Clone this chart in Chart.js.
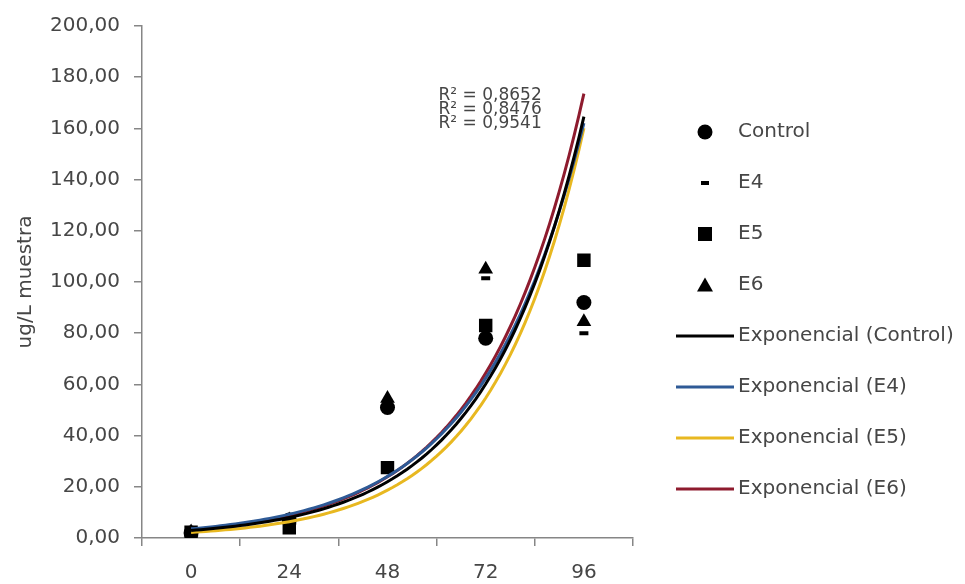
<!DOCTYPE html>
<html>
<head>
<meta charset="utf-8">
<script src="https://cdn.jsdelivr.net/npm/chart.js@4/dist/chart.umd.min.js"></script>
<style>
html,body{margin:0;padding:0;background:#fff;}
#wrap{width:965px;height:584px;}
</style>
</head>
<body>
<div id="wrap"><canvas id="myChart" width="965" height="584"></canvas></div>
<script>
// sampling hours (categories)
var hours = ["0", "24", "48", "72", "96"];
var yTicks = [0, 20, 40, 60, 80, 100, 120, 140, 160, 180, 200];

// ug/L muestra
var control = [2.0, 7.0, 51.0, 78.0, 92.0];
var e4      = [2.5, 7.5, 53.0, 101.5, 80.0];
var e5      = [2.3, 4.0, 27.5, 83.0, 108.5];
var e6      = [2.3, 7.0, 54.5, 105.0, 84.5];

var seriesNames = ["Control", "E4", "E5", "E6"];
var trendColors = ["#000000", "#2e5a96", "#e8b820", "#8e1b2e"];
var r2Labels = ["R\u00b2 = 0,8652", "R\u00b2 = 0,8476", "R\u00b2 = 0,9541"];

var font = "'DejaVu Sans', sans-serif";
var textColor = "#464646";
var axisColor = "#868686";

// excel-style exponential trendline: least squares on ln(y), x = category index 1..n
function expFit(vals){
  var n = vals.length, sx=0, sy=0, sxx=0, sxy=0;
  for (var i=0;i<n;i++){
    var x=i+1, y=Math.log(vals[i]);
    sx+=x; sy+=y; sxx+=x*x; sxy+=x*y;
  }
  var b=(n*sxy-sx*sy)/(n*sxx-sx*sx);
  var a=(sy-b*sx)/n;
  return function(x){ return Math.exp(a+b*x); };
}
function trendPoints(vals){
  var f=expFit(vals), pts=[];
  for (var t=0;t<=(vals.length-1)*20;t++){
    var x=t/20;
    pts.push({x:x, y:f(x+1)});
  }
  return pts;
}

// little canvases for the legend markers
function marker(kind, color){
  var c=document.createElement("canvas");
  var w = kind=="line" ? 58 : 18;
  c.width=w; c.height=18;
  var g=c.getContext("2d");
  g.fillStyle=color; g.strokeStyle=color;
  if (kind=="circle"){ g.beginPath(); g.arc(9,9,7.5,0,Math.PI*2); g.fill(); }
  if (kind=="dash"){ g.fillRect(5,7,8,4); }
  if (kind=="rect"){ g.fillRect(2,2,14,14); }
  if (kind=="triangle"){ g.beginPath(); g.moveTo(9,1.5); g.lineTo(17,15.5); g.lineTo(1,15.5); g.closePath(); g.fill(); }
  if (kind=="line"){ g.lineWidth=3; g.beginPath(); g.moveTo(0,9); g.lineTo(w,9); g.stroke(); }
  return c;
}
var legendMarks = [marker("circle","#000"), marker("dash","#000"), marker("rect","#000"), marker("triangle","#000")];
trendColors.forEach(function(col){ legendMarks.push(marker("line", col)); });

var values = [control, e4, e5, e6];
var styles = [
  {pointStyle:"circle", radius:7.5},
  {pointStyle:"line", radius:4.5},
  {pointStyle:"rect", radius:9.5},
  {pointStyle:"triangle", radius:8.5}
];

var datasets = [];
values.forEach(function(v, i){
  datasets.push({
    label: seriesNames[i],
    data: v,
    xAxisID: "x",
    showLine: false,
    pointStyle: styles[i].pointStyle,
    pointRadius: styles[i].radius,
    pointBackgroundColor: "#000",
    pointBorderColor: "#000",
    pointBorderWidth: styles[i].pointStyle=="line" ? 4 : 0,
    order: 2
  });
});
values.forEach(function(v, i){
  datasets.push({
    label: "Exponencial (" + seriesNames[i] + ")",
    data: trendPoints(v),
    xAxisID: "xt",
    borderColor: trendColors[i],
    borderWidth: 3,
    pointRadius: 0,
    tension: 0,
    order: 1
  });
});

var r2Plugin = {
  id: "r2text",
  afterDatasetsDraw: function(chart){
    var ctx=chart.ctx, xs=chart.scales.xt, ys=chart.scales.y;
    var yVals=[173, 167.4, 161.7];
    ctx.save();
    ctx.font="17px " + font;
    ctx.fillStyle=textColor;
    ctx.textBaseline="middle";
    ctx.textAlign="left";
    r2Labels.forEach(function(t, i){
      ctx.fillText(t, xs.getPixelForValue(2.52), ys.getPixelForValue(yVals[i]));
    });
    ctx.restore();
  }
};

// legend drawn by hand so it can be as wide as the original
var legendPlugin = {
  id: "sideLegend",
  afterDraw: function(chart){
    var ctx=chart.ctx, area=chart.chartArea;
    var items=chart.data.datasets;
    var step=51;
    var cy=(area.top+area.bottom)/2 + 28;
    var mx=area.right + 72, tx=area.right + 105;
    ctx.save();
    ctx.font="20px " + font;
    ctx.fillStyle=textColor;
    ctx.textBaseline="middle";
    ctx.textAlign="left";
    items.forEach(function(ds, i){
      var y=cy + (i - (items.length-1)/2)*step;
      var m=legendMarks[i];
      ctx.drawImage(m, Math.round(mx - m.width/2), Math.round(y - m.height/2));
      ctx.fillText(ds.label, tx, y);
    });
    ctx.restore();
  }
};

var ctx = document.getElementById("myChart");
var myChart = new Chart(ctx, {
  type: "line",
  data: { labels: hours, datasets: datasets },
  plugins: [r2Plugin, legendPlugin],
  options: {
    responsive: false,
    animation: false,
    layout: { padding: { left: 14, top: 12, right: 332, bottom: 0 } },
    plugins: {
      tooltip: { enabled: false },
      legend: { display: false }
    },
    scales: {
      x: {
        type: "category",
        offset: true,
        afterFit: function(axis){ axis.height = 46; },
        grid: { offset: true, drawOnChartArea: false, drawTicks: true, tickLength: 8, color: axisColor, lineWidth: 1.5 },
        border: { color: axisColor, width: 1.5 },
        ticks: { color: textColor, font: { family: font, size: 20, lineHeight: 1 }, padding: 17 }
      },
      xt: { type: "linear", display: false, min: -0.5, max: 4.5 },
      y: {
        min: 0, max: 200,
        afterBuildTicks: function(axis){ axis.ticks = yTicks.map(function(v){ return {value:v}; }); },
        grid: { drawOnChartArea: false, drawTicks: true, tickLength: 8, color: axisColor, lineWidth: 1.5 },
        border: { color: axisColor, width: 1.5 },
        ticks: {
          color: textColor, font: { family: font, size: 20 }, padding: 14,
          callback: function(v){ return v.toFixed(2).replace(".", ","); }
        },
        title: { display: true, text: "ug/L muestra", color: textColor, font: { family: font, size: 20 }, padding: { top: 0, bottom: -2 } }
      }
    }
  }
});
</script>
</body>
</html>
